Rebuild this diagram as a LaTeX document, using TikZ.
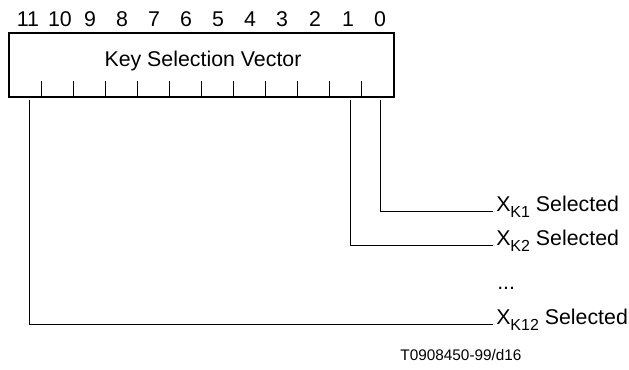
\documentclass[tikz,border=0pt]{standalone}
\usepackage{fontspec}
\setmainfont{Liberation Sans}
\usetikzlibrary{positioning}

\newcommand{\kidx}[1]{\raisebox{-0.3em}{\fontsize{12}{12}\selectfont #1}}

\tikzset{
  bitnum/.style={inner sep=0pt, font=\fontsize{16}{18}\selectfont},
  vecbox/.style={draw, line width=1.9pt, minimum width=288.75pt, minimum height=48pt, inner sep=0pt},
  tick/.style={line width=0.7pt},
  wire/.style={line width=0.75pt},
  sel/.style={inner sep=0pt, anchor=base west, font=\fontsize{16}{18}\selectfont},
  note/.style={inner sep=0pt, font=\fontsize{11.5}{13}\selectfont}
}

\begin{document}
\begin{tikzpicture}[x=0.75pt, y=-0.75pt]
\useasboundingbox (0,0) rectangle (629,369);

\node[vecbox] (ksv) at (201.5,65) {};
\node[bitnum] (title) at (203,61) {Key Selection Vector};

\draw[tick] (41,81) -- (41,97);
\draw[tick] (73,81) -- (73,97);
\draw[tick] (105,81) -- (105,97);
\draw[tick] (137,81) -- (137,97);
\draw[tick] (169,81) -- (169,97);
\draw[tick] (201,81) -- (201,97);
\draw[tick] (233,81) -- (233,97);
\draw[tick] (265,81) -- (265,97);
\draw[tick] (297,81) -- (297,97);
\draw[tick] (329,81) -- (329,97);
\draw[tick] (361,81) -- (361,97);

\node[bitnum] (b11) at (28,19) {11};
\node[bitnum] (b10) at (60,19) {10};
\node[bitnum] (b9) at (90,19) {9};
\node[bitnum] (b8) at (122,19) {8};
\node[bitnum] (b7) at (154,19) {7};
\node[bitnum] (b6) at (186,19) {6};
\node[bitnum] (b5) at (218,19) {5};
\node[bitnum] (b4) at (250,19) {4};
\node[bitnum] (b3) at (282,19) {3};
\node[bitnum] (b2) at (315,19) {2};
\node[bitnum] (b1) at (348,19) {1};
\node[bitnum] (b0) at (380,19) {0};

\coordinate (s0) at (380,100);
\coordinate (s1) at (350,100);
\coordinate (s11) at (29,100);

\node[sel] (xk1) at (496,211) {X\kidx{K1} Selected};
\node[sel] (xk2) at (496,245) {X\kidx{K2} Selected};
\node[sel] (dots) at (497,289) {...};
\node[sel] (xk12) at (496,324) {X\kidx{K12} Selected};

\draw[wire] (s0) |- ([xshift=-2pt]xk1.base west);
\draw[wire] (s1) |- ([xshift=-2pt]xk2.base west);
\draw[wire] (s11) |- ([xshift=-2pt]xk12.base west);

\node[note] (tag) at (461,355) {T0908450-99/d16};
\end{tikzpicture}
\end{document}
